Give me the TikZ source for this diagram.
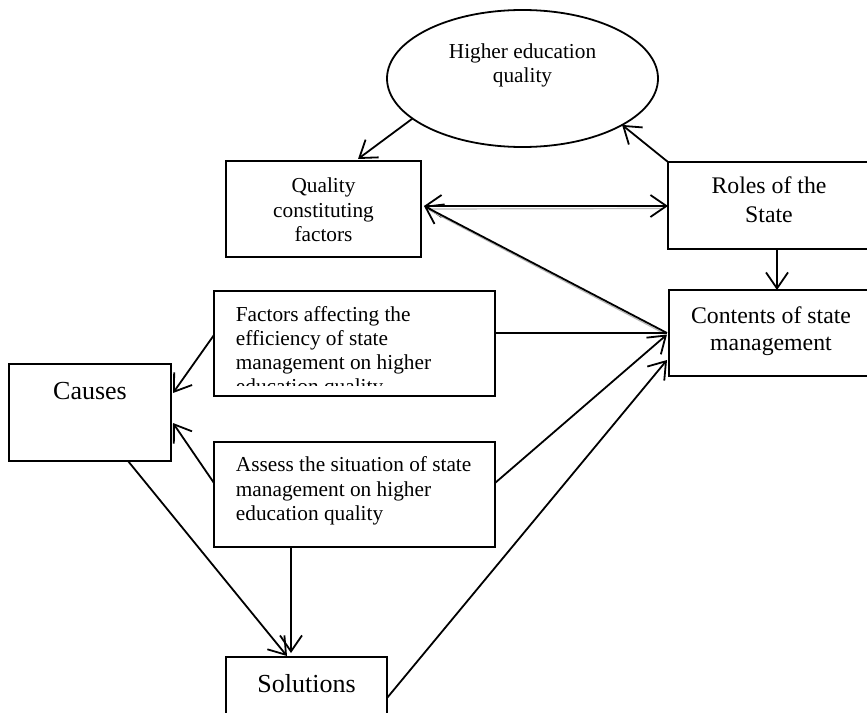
\documentclass[tikz,border=0pt]{standalone}
\usepackage{fontspec}
\setmainfont{Liberation Serif}
\usetikzlibrary{arrows.meta,shapes.geometric,calc}
\begin{document}
\begin{tikzpicture}[x=1pt,y=-1pt,line width=1.8pt,
  barb/.tip={Straight Barb[length=16pt,width=22pt,line width=1.8pt]},
  arr/.style={-barb},
  box/.style={draw,rectangle,inner sep=0pt,outer sep=0pt},
  txs/.style={inner sep=0pt,anchor=base,font=\fontsize{21.3pt}{24pt}\selectfont},
  txm/.style={inner sep=0pt,anchor=base,font=\fontsize{23.8pt}{28pt}\selectfont},
  txl/.style={inner sep=0pt,anchor=base,font=\fontsize{26pt}{30pt}\selectfont},
  shadow/.style={draw=gray!55,line width=1.2pt}]
\clip (0,0) rectangle (867,712);
% shapes
\node[draw,ellipse,inner sep=0pt,outer sep=0pt,minimum width=271pt,minimum height=137pt] (ell) at (522.5,78.5) {};
\node[box,minimum width=195pt,minimum height=96pt] (qcf) at (323.5,209) {};
\node[box,minimum width=202pt,minimum height=87pt] (roles) at (769,205.5) {};
\node[box,minimum width=204pt,minimum height=86pt] (contents) at (771,333) {};
\node[box,minimum width=281pt,minimum height=105pt] (factors) at (354.5,343.5) {};
\node[box,minimum width=162pt,minimum height=97pt] (causes) at (90,412.5) {};
\node[box,minimum width=281pt,minimum height=105pt] (assess) at (354.5,494.5) {};
\node[box,minimum width=161pt,minimum height=73pt] (solutions) at (306.5,693.5) {};
% texts
\node[txs] (ellA) at (522.5,58) {Higher education};
\node[txs] (ellB) at (522.5,82) {quality};
\node[txs] (qcfA) at (323.5,192) {Quality};
\node[txs] (qcfB) at (323.5,217) {constituting};
\node[txs] (qcfC) at (323.5,241) {factors};
\node[txm] (rolesA) at (769,193) {Roles of the};
\node[txm] (rolesB) at (769,222) {State};
\node[txm] (contA) at (771,323) {Contents of state};
\node[txm] (contB) at (771,350) {management};
\begin{scope}
\clip (214,291) rectangle (495,385);
\node[txs,anchor=base west] (facA) at (235,321) {Factors affecting the};
\node[txs,anchor=base west] (facB) at (235,345) {efficiency of state};
\node[txs,anchor=base west] (facC) at (235,369) {management on higher};
\node[txs,anchor=base west] (facD) at (235,393) {education quality};
\end{scope}
\node[txl] (causesT) at (90,399) {Causes};
\node[txs,anchor=base west] (assA) at (235,471) {Assess the situation of state};
\node[txs,anchor=base west] (assB) at (235,496) {management on higher};
\node[txs,anchor=base west] (assC) at (235,520) {education quality};
\node[txl] (solT) at (306.5,692) {Solutions};
% connectors
\draw[arr] (ell.200) -- ($(qcf.north)+(34.5,-2)$);
\draw[arr] (roles.north west) -- (ell.-25);
\draw[shadow] ($(qcf.east)+(8,0)$) -- ($(roles.west)+(-6,3)$);
\draw[barb-barb] ($(qcf.east)+(3,-3)$) -- ($(roles.west)+(0,0.5)$);
\draw[shadow] ($(qcf.east)+(8,1)$) -- ($(contents.west)+(-4,1)$);
\draw[arr] ($(contents.west)+(-2,0)$) -- ($(qcf.east)+(3,-3)$);
\draw ($(factors.east)+(0,-10.5)$) -- ($(contents.west)+(-2,0)$);
\draw[arr] ($(assess.east)+(0,-11.5)$) -- ($(contents.west)+(-2,1.5)$);
\draw[arr] ($(solutions.east)+(0,4.5)$) -- ($(contents.west)+(-2,27)$);
\coordinate (rc) at ($(roles.south)+(8,0)$);
\draw[arr] (rc) -- (rc |- contents.north);
\draw[arr] ($(factors.west)+(0,-8.5)$) -- ($(causes.east)+(2,-19.5)$);
\draw[arr] ($(assess.west)+(0,-11.5)$) -- ($(causes.east)+(2,10.5)$);
\draw[arr] ($(causes.south)+(38,0)$) -- ($(solutions.north)+(-19.5,-1)$);
\coordinate (as) at ($(assess.south)+(-63.5,0)$);
\draw[arr] (as) -- ($(as |- solutions.north)+(0,-4)$);
\end{tikzpicture}
\end{document}
